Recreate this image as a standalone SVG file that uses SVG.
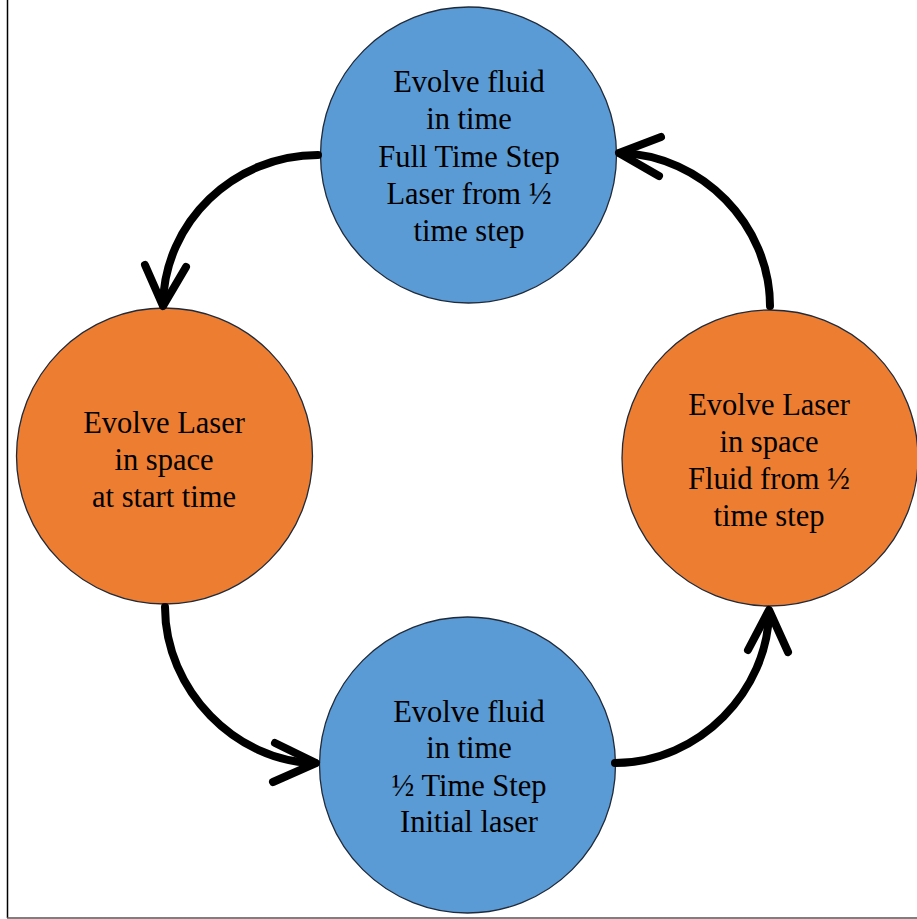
<svg xmlns="http://www.w3.org/2000/svg" width="917" height="919" viewBox="0 0 917 919">
<style>
.blue{fill:#5b9bd5;stroke:#1f2a3a;stroke-width:1.3}
.orange{fill:#ed7d31;stroke:#1f2a3a;stroke-width:1.3}
.lbl{font-family:"Liberation Serif","Times New Roman",serif;font-size:30.5px;fill:#000;text-anchor:middle}
.conn{fill:none;stroke:#000;stroke-width:8;stroke-linecap:round;stroke-linejoin:round}
</style>
<rect x="0" y="0" width="917" height="919" fill="#fff"/>
<line x1="7.5" y1="0" x2="7.5" y2="918" stroke="#000" stroke-width="1.5"/>
<line x1="7" y1="918" x2="917" y2="918" stroke="#555" stroke-width="1.5"/>
<g id="node-top">
<circle class="blue" cx="468.5" cy="155" r="148"/>
<text class="lbl" x="469" y="92">Evolve fluid</text>
<text class="lbl" x="469" y="129">in time</text>
<text class="lbl" x="469" y="167">Full Time Step</text>
<text class="lbl" x="469" y="204">Laser from ½</text>
<text class="lbl" x="469" y="241">time step</text>
</g>
<g id="node-left">
<circle class="orange" cx="164.5" cy="456" r="148"/>
<text class="lbl" x="164" y="433">Evolve Laser</text>
<text class="lbl" x="164" y="470">in space</text>
<text class="lbl" x="164" y="507">at start time</text>
</g>
<g id="node-right">
<circle class="orange" cx="770" cy="458" r="148"/>
<text class="lbl" x="769" y="415">Evolve Laser</text>
<text class="lbl" x="769" y="452">in space</text>
<text class="lbl" x="769" y="489">Fluid from ½</text>
<text class="lbl" x="769" y="526">time step</text>
</g>
<g id="node-bottom">
<circle class="blue" cx="467.5" cy="765" r="148"/>
<text class="lbl" x="469" y="722">Evolve fluid</text>
<text class="lbl" x="469" y="758">in time</text>
<text class="lbl" x="469" y="796">½ Time Step</text>
<text class="lbl" x="469" y="832">Initial laser</text>
</g>
<g id="connectors">
<path class="conn" d="M 318 155 C 234 155 164 222 163 305"/>
<polyline class="conn" points="145,265 163,306 186,267"/>
<path class="conn" d="M 770 306 C 770 225 702 155 620 153"/>
<polyline class="conn" points="661,137 619,153 659,176"/>
<path class="conn" d="M 165 607 C 165 690 236 762 315 763"/>
<polyline class="conn" points="275,743 316,763 273,782"/>
<path class="conn" d="M 615 763 C 700 763 768 690 769 612"/>
<polyline class="conn" points="748,650 769,610 788,652"/>
</g>
</svg>
